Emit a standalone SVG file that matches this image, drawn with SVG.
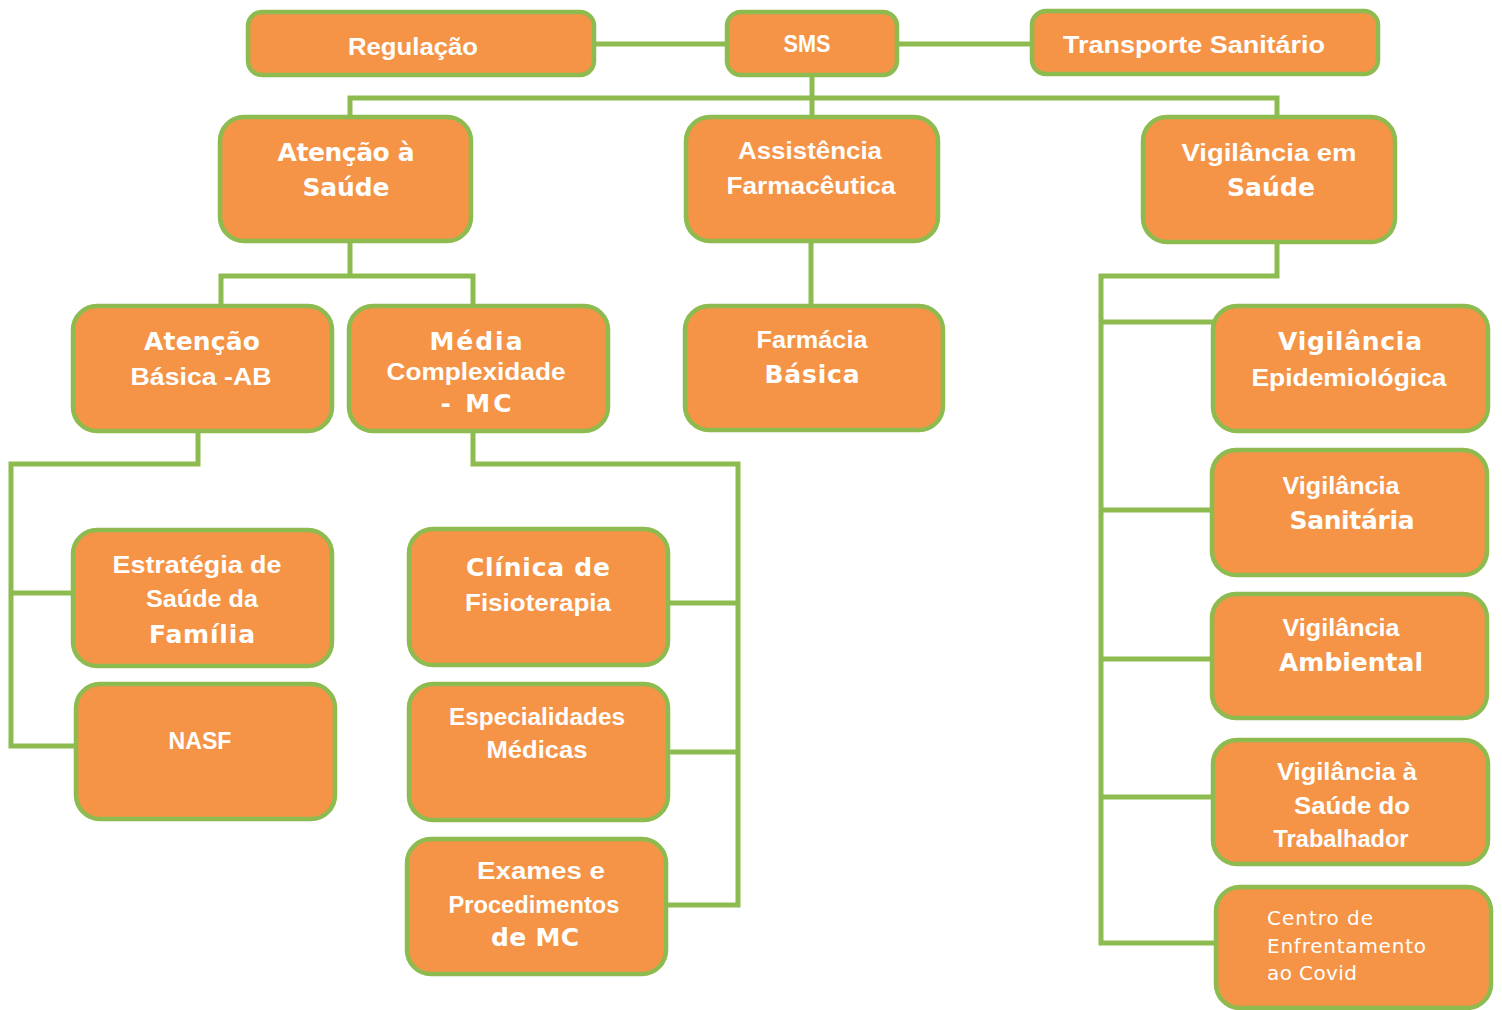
<svg xmlns="http://www.w3.org/2000/svg" width="1502" height="1010" viewBox="0 0 1502 1010">
<style>
.box{fill:#F59446;stroke:#8DBB4F;stroke-width:4.5}
.ln{fill:none;stroke:#8DBB4F;stroke-width:5;stroke-linejoin:miter}
text{fill:#FFFFFF;font-family:"Liberation Sans",Arial,sans-serif;font-weight:bold;text-anchor:middle}
.s{font-size:24px}
.b{font-size:25px;font-family:"DejaVu Sans","Liberation Sans",sans-serif}
.c{font-size:20px;font-weight:normal;text-anchor:start;font-family:"DejaVu Sans","Liberation Sans",sans-serif}
</style>
<rect width="1502" height="1010" fill="#FFFFFF"/>
<g id="connectors">
<path class="ln" d="M594 44H727M897 44H1032"/>
<path class="ln" d="M812 75V98M350 118V98H1277V118M812 98V118"/>
<path class="ln" d="M350 241V276H221V306M350 276H473V306"/>
<path class="ln" d="M811 241V306"/>
<path class="ln" d="M1277 242V276H1101V943H1216M1101 322H1213M1101 510H1212M1101 659H1212M1101 797H1213"/>
<path class="ln" d="M198 431V464H11V746H76M11 593H73"/>
<path class="ln" d="M473 431V464H738V905H666M738 603H668M738 752H668"/>
</g>
<g id="n-regulacao"><rect class="box" x="248" y="12" width="346" height="63" rx="14"/><text class="s" x="413" y="55" textLength="130" lengthAdjust="spacingAndGlyphs">Regulação</text></g>
<g id="n-sms"><rect class="box" x="727" y="12" width="170" height="63" rx="14"/><text class="s" x="807" y="52" textLength="47" lengthAdjust="spacingAndGlyphs">SMS</text></g>
<g id="n-transporte"><rect class="box" x="1032" y="11" width="346" height="63" rx="14"/><text class="s" x="1194" y="53" textLength="262" lengthAdjust="spacingAndGlyphs">Transporte  Sanitário</text></g>
<g id="n-atencao-saude"><rect class="box" x="220" y="117" width="251" height="124" rx="24"/><text class="b" x="346" y="161" textLength="137">Atenção à</text><text class="b" x="346" y="196" textLength="87">Saúde</text></g>
<g id="n-assistencia"><rect class="box" x="686" y="117" width="252" height="124" rx="24"/><text class="s" x="810" y="159" textLength="144" lengthAdjust="spacingAndGlyphs">Assistência</text><text class="s" x="811" y="194" textLength="169" lengthAdjust="spacingAndGlyphs">Farmacêutica</text></g>
<g id="n-vigilancia-saude"><rect class="box" x="1143" y="117" width="252" height="125" rx="24"/><text class="s" x="1269" y="161" textLength="175" lengthAdjust="spacingAndGlyphs">Vigilância    em</text><text class="b" x="1271" y="196" textLength="88">Saúde</text></g>
<g id="n-atencao-basica"><rect class="box" x="73" y="306" width="259" height="125" rx="24"/><text class="b" x="202" y="350" textLength="116">Atenção</text><text class="s" x="201" y="385" textLength="141" lengthAdjust="spacingAndGlyphs">Básica   -AB</text></g>
<g id="n-media"><rect class="box" x="349" y="306" width="259" height="125" rx="24"/><text class="b" x="476" y="350" textLength="93">Média</text><text class="s" x="476" y="380" textLength="179" lengthAdjust="spacingAndGlyphs">Complexidade</text><text class="b" x="476" y="412" textLength="71">- MC</text></g>
<g id="n-farmacia"><rect class="box" x="685" y="306" width="258" height="124" rx="24"/><text class="s" x="812" y="348" textLength="111" lengthAdjust="spacingAndGlyphs">Farmácia</text><text class="b" x="812" y="383" textLength="95">Básica</text></g>
<g id="n-vig-epi"><rect class="box" x="1213" y="306" width="275" height="125" rx="24"/><text class="b" x="1350" y="350" textLength="144">Vigilância</text><text class="s" x="1349" y="386" textLength="195" lengthAdjust="spacingAndGlyphs">Epidemiológica</text></g>
<g id="n-vig-sanitaria"><rect class="box" x="1212" y="450" width="275" height="125" rx="24"/><text class="s" x="1341" y="494" textLength="117" lengthAdjust="spacingAndGlyphs">Vigilância</text><text class="b" x="1352" y="529" textLength="125">Sanitária</text></g>
<g id="n-vig-ambiental"><rect class="box" x="1212" y="594" width="275" height="124" rx="24"/><text class="s" x="1341" y="636" textLength="117" lengthAdjust="spacingAndGlyphs">Vigilância</text><text class="b" x="1351" y="671" textLength="144">Ambiental</text></g>
<g id="n-vig-trabalhador"><rect class="box" x="1213" y="740" width="275" height="124" rx="24"/><text class="s" x="1347" y="780" textLength="140" lengthAdjust="spacingAndGlyphs">Vigilância  à</text><text class="s" x="1352" y="814" textLength="116" lengthAdjust="spacingAndGlyphs">Saúde  do</text><text class="s" x="1341" y="847" textLength="135" lengthAdjust="spacingAndGlyphs">Trabalhador</text></g>
<g id="n-covid"><rect class="box" x="1216" y="887" width="275" height="121" rx="24"/><text class="c" x="1267" y="925" textLength="106">Centro de</text><text class="c" x="1267" y="953" textLength="159">Enfrentamento</text><text class="c" x="1267" y="980" textLength="90">ao Covid</text></g>
<g id="n-estrategia"><rect class="box" x="73" y="530" width="259" height="136" rx="24"/><text class="s" x="197" y="573" textLength="169" lengthAdjust="spacingAndGlyphs">Estratégia   de</text><text class="s" x="202" y="607" textLength="112" lengthAdjust="spacingAndGlyphs">Saúde   da</text><text class="b" x="202" y="643" textLength="106">Família</text></g>
<g id="n-nasf"><rect class="box" x="76" y="684" width="259" height="135" rx="24"/><text class="s" x="200" y="749" textLength="63" lengthAdjust="spacingAndGlyphs">NASF</text></g>
<g id="n-clinica"><rect class="box" x="409" y="529" width="259" height="136" rx="24"/><text class="b" x="538" y="576" textLength="144">Clínica de</text><text class="s" x="538" y="611" textLength="146" lengthAdjust="spacingAndGlyphs">Fisioterapia</text></g>
<g id="n-especialidades"><rect class="box" x="409" y="684" width="259" height="136" rx="24"/><text class="s" x="537" y="725" textLength="176" lengthAdjust="spacingAndGlyphs">Especialidades</text><text class="s" x="537" y="758" textLength="101" lengthAdjust="spacingAndGlyphs">Médicas</text></g>
<g id="n-exames"><rect class="box" x="407" y="839" width="259" height="135" rx="24"/><text class="s" x="541" y="879" textLength="128" lengthAdjust="spacingAndGlyphs">Exames   e</text><text class="s" x="534" y="913" textLength="171" lengthAdjust="spacingAndGlyphs">Procedimentos</text><text class="b" x="535" y="946" textLength="88">de MC</text></g>
</svg>
